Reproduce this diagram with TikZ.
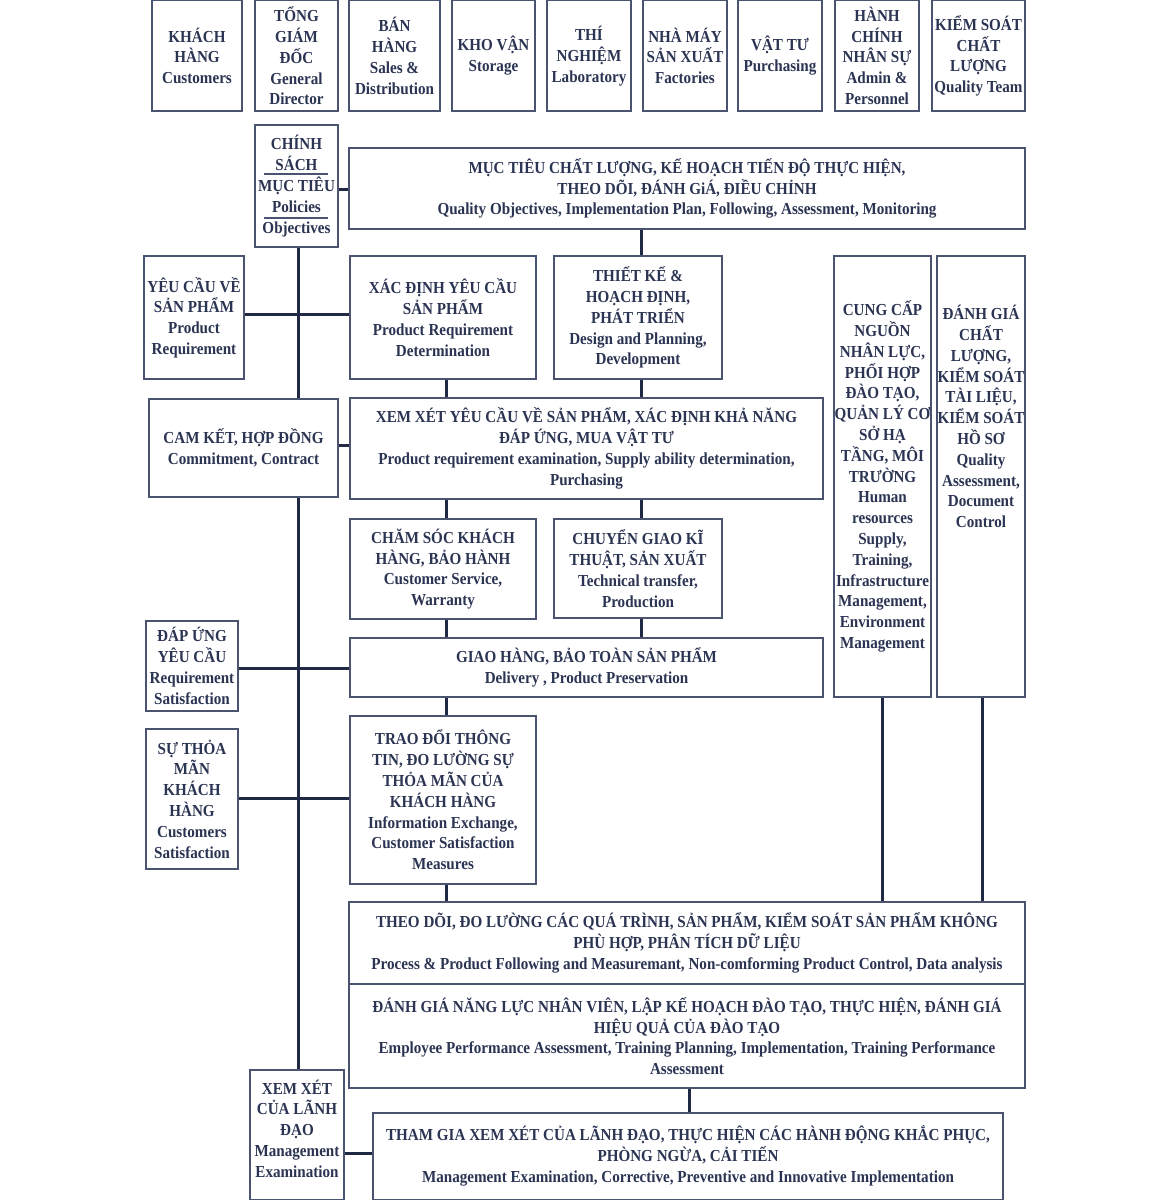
\documentclass[tikz,border=0pt]{standalone}
\usepackage{fontspec}
\setmainfont{Liberation Serif}[FakeStretch=0.9]
\definecolor{textcol}{HTML}{2B3452}
\definecolor{conncol}{HTML}{1F2943}
\definecolor{bordercol}{HTML}{4A5370}
\tikzset{
  box/.style={draw=bordercol, line width=1.3pt, inner sep=0pt, align=center,
    font=\bfseries\fontsize{16.8}{20.8}\selectfont, text=textcol},
  lbl/.style={inner sep=0pt, align=center,
    font=\bfseries\fontsize{16.8}{20.8}\selectfont, text=textcol},
  conn/.style={draw=conncol, line width=3pt},
  rule/.style={draw=bordercol, line width=1.3pt}
}
\newcommand\mybox[6]{\node[box, minimum width={(#4-#2)*1pt}, minimum height={(#5-#3)*1pt}] (#1) at ({(#2+#4)/2},{(#3+#5)/2}) {#6};}
\begin{document}
\begin{tikzpicture}[x=1pt,y=-1pt]
\fill[white] (0,0) rectangle (1170,1200);
\useasboundingbox (0,0) rectangle (1170,1200);
% top row
\mybox{kh}{152}{0.7}{242}{111}{KHÁCH\\HÀNG\\Customers}
\mybox{tgd}{255}{0.7}{338}{111}{TỔNG\\GIÁM\\ĐỐC\\General\\Director}
\mybox{bh}{349}{0.7}{440}{111}{BÁN\\HÀNG\\Sales \&\\Distribution}
\mybox{kv}{452}{0.7}{535}{111}{KHO VẬN\\Storage}
\mybox{tn}{547}{0.7}{631}{111}{THÍ\\NGHIỆM\\Laboratory}
\mybox{nm}{643}{0.7}{727}{111}{NHÀ MÁY\\SẢN XUẤT\\Factories}
\mybox{vt}{738}{0.7}{822}{111}{VẬT TƯ\\Purchasing}
\mybox{hc}{835}{0.7}{919}{111}{HÀNH\\CHÍNH\\NHÂN SỰ\\Admin \&\\Personnel}
\mybox{ks}{932}{0.7}{1025}{111}{KIỂM SOÁT\\CHẤT\\LƯỢNG\\Quality Team}
% policies
\mybox{cs}{255}{125}{338}{247}{CHÍNH\\SÁCH\\MỤC TIÊU\\Policies\\Objectives}
\draw[rule] (264,174) -- (328,174);
\draw[rule] (264,218) -- (328,218);
\mybox{top}{349}{148}{1025}{229}{MỤC TIÊU CHẤT LƯỢNG, KẾ HOẠCH TIẾN ĐỘ THỰC HIỆN,\\THEO DÕI, ĐÁNH GiÁ, ĐIỀU CHỈNH\\Quality Objectives, Implementation Plan, Following, Assessment, Monitoring}
% row 2
\mybox{yc}{144}{256}{244}{379}{YÊU CẦU VỀ\\SẢN PHẨM\\Product\\Requirement}
\mybox{xd}{350}{256}{536}{379}{XÁC ĐỊNH YÊU CẦU\\SẢN PHẨM\\Product Requirement\\Determination}
\mybox{tk}{554}{256}{722}{379}{THIẾT KẾ \&\\HOẠCH ĐỊNH,\\PHÁT TRIỂN\\Design and Planning,\\Development}
\mybox{cc}{834}{256}{931}{697}{CUNG CẤP\\NGUỒN\\NHÂN LỰC,\\PHỐI HỢP\\ĐÀO TẠO,\\QUẢN LÝ CƠ\\SỞ HẠ\\TẦNG, MÔI\\TRƯỜNG\\Human\\resources\\Supply,\\Training,\\Infrastructure\\Management,\\Environment\\Management}
\mybox{dg}{937}{256}{1025}{697}{}
\node[lbl] (dgt) at (981,416.5) {ĐÁNH GIÁ\\CHẤT\\LƯỢNG,\\KIỂM SOÁT\\TÀI LIỆU,\\KIỂM SOÁT\\HỒ SƠ\\Quality\\Assessment,\\Document\\Control};
% row 3
\mybox{ck}{149}{399}{338}{497}{CAM KẾT, HỢP ĐỒNG\\Commitment, Contract}
\mybox{xx}{350}{398}{823}{499}{XEM XÉT YÊU CẦU VỀ SẢN PHẨM, XÁC ĐỊNH KHẢ NĂNG\\ĐÁP ỨNG, MUA VẬT TƯ\\Product requirement examination, Supply ability determination,\\Purchasing}
% row 4
\mybox{csk}{350}{519}{536}{619}{CHĂM SÓC KHÁCH\\HÀNG, BẢO HÀNH\\Customer Service,\\Warranty}
\mybox{cg}{554}{519}{722}{618}{CHUYỂN GIAO KĨ\\THUẬT, SẢN XUẤT\\Technical transfer,\\Production}
\mybox{gh}{350}{638}{823}{697}{GIAO HÀNG, BẢO TOÀN SẢN PHẨM\\Delivery , Product Preservation}
\mybox{du}{146}{621}{238}{711}{ĐÁP ỨNG\\YÊU CẦU\\Requirement\\Satisfaction}
\mybox{stm}{146}{729}{238}{869}{SỰ THỎA\\MÃN\\KHÁCH\\HÀNG\\Customers\\Satisfaction}
\mybox{td}{350}{716}{536}{884}{TRAO ĐỔI THÔNG\\TIN, ĐO LƯỜNG SỰ\\THỎA MÃN CỦA\\KHÁCH HÀNG\\Information Exchange,\\Customer Satisfaction\\Measures}
% bottom
\mybox{theo}{349}{902}{1025}{984}{THEO DÕI, ĐO LƯỜNG CÁC QUÁ TRÌNH, SẢN PHẨM, KIỂM SOÁT SẢN PHẨM KHÔNG\\PHÙ HỢP, PHÂN TÍCH DỮ LIỆU\\Process \& Product Following and Measuremant, Non-comforming Product Control, Data analysis}
\mybox{dgnl}{349}{984}{1025}{1088}{ĐÁNH GIÁ NĂNG LỰC NHÂN VIÊN, LẬP KẾ HOẠCH ĐÀO TẠO, THỰC HIỆN, ĐÁNH GIÁ\\HIỆU QUẢ CỦA ĐÀO TẠO\\Employee Performance Assessment, Training Planning, Implementation, Training Performance\\Assessment}
\mybox{ld}{250}{1070}{344}{1199.3}{}
\node[lbl] (ldt) at (297,1128.5) {XEM XÉT\\CỦA LÃNH\\ĐẠO\\Management\\Examination};
\mybox{tg}{373}{1113}{1003}{1199.3}{THAM GIA XEM XÉT CỦA LÃNH ĐẠO, THỰC HIỆN CÁC HÀNH ĐỘNG KHẮC PHỤC,\\PHÒNG NGỪA, CẢI TIẾN\\Management Examination, Corrective, Preventive and Innovative Implementation}
% connectors
\draw[conn] (cs.east |- 0,189) -- (top.west |- 0,189);
\draw[conn] (top.south -| 641,0) -- (tk.north -| 641,0);
\draw[conn] (cs.south -| 298,0) -- (ck.north -| 298,0);
\draw[conn] (ck.south -| 298,0) -- (ld.north -| 298,0);
\draw[conn] (yc.east |- 0,314) -- (xd.west |- 0,314);
\draw[conn] (ck.east |- 0,445) -- (xx.west |- 0,445);
\draw[conn] (xd.south -| 446,0) -- (xx.north -| 446,0);
\draw[conn] (tk.south -| 641,0) -- (xx.north -| 641,0);
\draw[conn] (xx.south -| 446,0) -- (csk.north -| 446,0);
\draw[conn] (xx.south -| 641,0) -- (cg.north -| 641,0);
\draw[conn] (csk.south -| 446,0) -- (gh.north -| 446,0);
\draw[conn] (cg.south -| 641,0) -- (gh.north -| 641,0);
\draw[conn] (du.east |- 0,668) -- (gh.west |- 0,668);
\draw[conn] (stm.east |- 0,798) -- (td.west |- 0,798);
\draw[conn] (gh.south -| 446,0) -- (td.north -| 446,0);
\draw[conn] (td.south -| 446,0) -- (theo.north -| 446,0);
\draw[conn] (cc.south -| 882,0) -- (theo.north -| 882,0);
\draw[conn] (dg.south -| 982,0) -- (theo.north -| 982,0);
\draw[conn] (dgnl.south -| 689,0) -- (tg.north -| 689,0);
\draw[conn] (ld.east |- 0,1153) -- (tg.west |- 0,1153);
\end{tikzpicture}
\end{document}
